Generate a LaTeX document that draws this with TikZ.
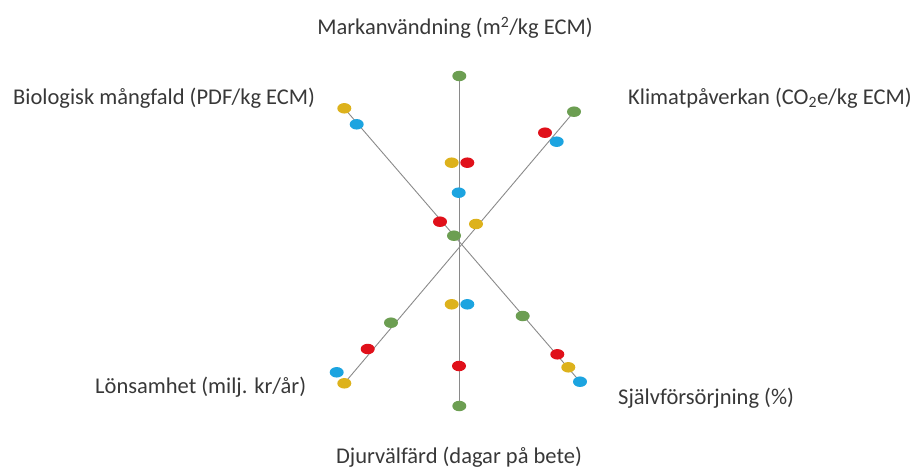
\documentclass[tikz,border=0pt]{standalone}
\usepackage{fontspec}
\setmainfont{Carlito}
\usetikzlibrary{shapes.geometric,backgrounds}
\definecolor{cgreen}{HTML}{6C9E52}
\definecolor{cyellow}{HTML}{DDB21C}
\definecolor{cred}{HTML}{E0101A}
\definecolor{cblue}{HTML}{1CA4E0}
\definecolor{cline}{HTML}{8A8A8A}
\definecolor{ctext}{HTML}{383838}
\begin{document}
\begin{tikzpicture}[x=1pt,y=-1pt,
  dot/.style={ellipse,draw=none,fill=#1,minimum width=14pt,minimum height=10.5pt,inner sep=0pt},
  axis/.style={draw=cline,line width=0.9pt},
  lab/.style={text=ctext,font=\fontsize{22.5}{27}\selectfont,inner sep=0pt}]
\useasboundingbox (0,0) rectangle (915,470);
% labels
\node[lab] (tm) at (455,28) {Markanvändning (m\textsuperscript{2}/kg ECM)};
\node[lab,anchor=west] (tb) at (13,98) {Biologisk mångfald (PDF/kg ECM)};
\node[lab,anchor=west] (tk) at (628,98) {Klimatpåverkan (CO\textsubscript{2}e/kg ECM)};
\node[lab,anchor=west] (tl) at (95,387) {Lönsamhet (milj. kr/år)};
\node[lab,anchor=west] (ts) at (618,398) {Självförsörjning (\%)};
\node[lab] (td) at (459,457) {Djurvälfärd (dagar på bete)};
% vertical axis dots
\node[dot=cgreen] (vtop) at (459.3,76) {};
\node[dot=cyellow] (vy1) at (451.7,162.7) {};
\node[dot=cred] (vr1) at (467.3,162.7) {};
\node[dot=cblue] (vb1) at (458.7,192.7) {};
\node[dot=cyellow] (vy2) at (451.7,304.3) {};
\node[dot=cblue] (vb2) at (467.3,304.3) {};
\node[dot=cred] (vr2) at (459,366) {};
\node[dot=cgreen] (vbot) at (459.3,406) {};
% upper-left to lower-right diagonal
\node[dot=cyellow] (uly) at (344.3,108.3) {};
\node[dot=cblue] (ulb) at (356.7,124.3) {};
\node[dot=cred] (ulr) at (440,221.7) {};
\node[dot=cgreen] (ulg) at (454,235.7) {};
\node[dot=cgreen] (lrg) at (522.7,316) {};
\node[dot=cred] (lrr) at (557.3,354.3) {};
\node[dot=cyellow] (lry) at (568.3,367.3) {};
\node[dot=cblue] (lrb) at (580,381.7) {};
% upper-right to lower-left diagonal
\node[dot=cgreen] (urg) at (574,111.7) {};
\node[dot=cred] (urr) at (545,132.7) {};
\node[dot=cblue] (urb) at (556.7,141.7) {};
\node[dot=cyellow] (ury) at (476,224) {};
\node[dot=cgreen] (llg) at (391,322.7) {};
\node[dot=cred] (llr) at (367.7,349) {};
\node[dot=cblue] (llb) at (336.7,372.3) {};
\node[dot=cyellow] (lly) at (344.3,383.3) {};
\begin{scope}[on background layer]
\draw[axis] (vtop.center) -- (vbot.center);
\draw[axis] (uly.center) -- (lrb.center);
\draw[axis] (urg.center) -- (lly.center);
\end{scope}
\end{tikzpicture}
\end{document}
